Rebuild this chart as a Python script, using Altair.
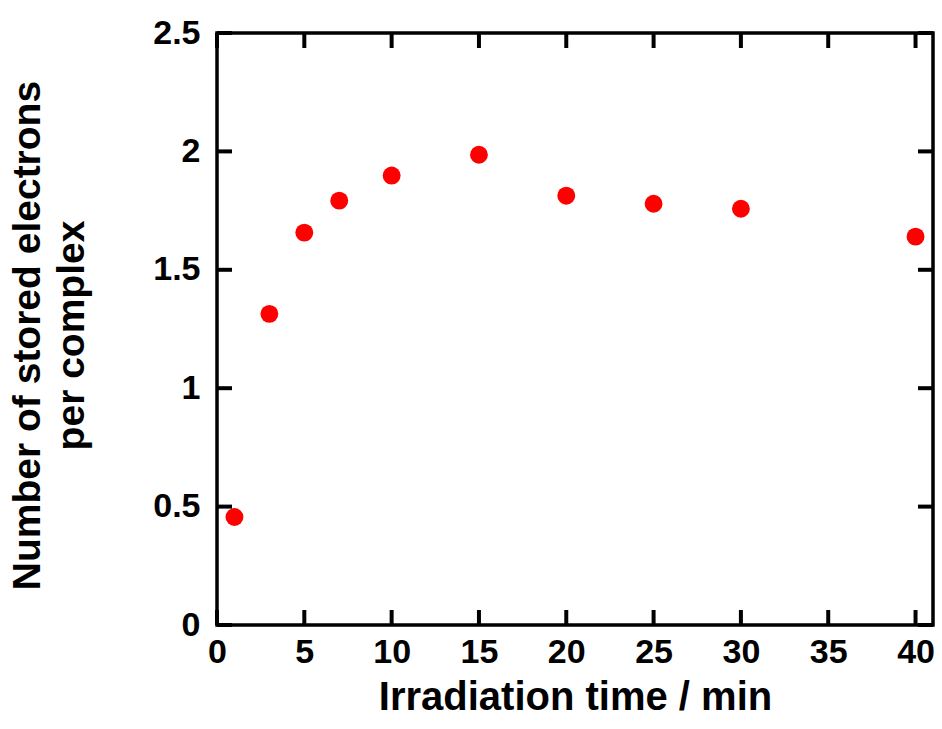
import altair as alt
import pandas as pd

# Data
times = [1, 3, 5, 7, 10, 15, 20, 25, 30, 40]
electrons = [0.456, 1.314, 1.657, 1.792, 1.898, 1.986, 1.813, 1.779, 1.758, 1.640]
x_ticks = [0, 5, 10, 15, 20, 25, 30, 35, 40]
y_ticks = [0, 0.5, 1.0, 1.5, 2.0, 2.5]

W, H = 716, 592
FONT = "Liberation Sans"
TL = 15  # tick length (px)

pts = pd.DataFrame({"t": times, "n": electrons})
xt = pd.DataFrame({"t": x_ticks})
yt = pd.DataFrame({"n": y_ticks})

xs = alt.Scale(domain=[0, 41], nice=False, zero=False)
ys = alt.Scale(domain=[0, 2.5], nice=False, zero=False)

x_axis = alt.Axis(
    title="Irradiation time / min", values=x_ticks, format="d",
    ticks=False, tickSize=0, domain=False, grid=False,
    labelFont=FONT, labelFontSize=34, labelFontWeight="bold", labelColor="black",
    labelBaseline="alphabetic", labelPadding=37, labelFlush=False,
    titleFont=FONT, titleFontSize=40, titleFontWeight="bold", titleColor="black",
    titleBaseline="alphabetic", titleY=84)
y_axis = alt.Axis(
    title=["Number of stored electrons", "per complex"], values=y_ticks,
    labelExpr="datum.value == 0 ? '0' : format(datum.value, '~g')",
    ticks=False, tickSize=0, domain=False, grid=False,
    labelFont=FONT, labelFontSize=34, labelFontWeight="bold", labelColor="black",
    labelPadding=17, labelFlush=False,
    titleFont=FONT, titleFontSize=39, titleFontWeight="bold", titleColor="black",
    titleBaseline="middle", titleAlign="center", titleAngle=-90,
    titleLineHeight=44, titleX=-190, titleY=H / 2 + 6)

points = alt.Chart(pts).mark_circle(size=320, color="#ff0000", opacity=1).encode(
    x=alt.X("t:Q", scale=xs, axis=x_axis),
    y=alt.Y("n:Q", scale=ys, axis=y_axis),
)

tick_style = dict(color="black", strokeWidth=4)
xb = alt.Chart(xt).mark_rule(**tick_style).encode(
    x=alt.X("t:Q", scale=xs, axis=x_axis), y=alt.value(H), y2=alt.value(H - TL))
xtop = alt.Chart(xt).mark_rule(**tick_style).encode(
    x=alt.X("t:Q", scale=xs, axis=x_axis), y=alt.value(0), y2=alt.value(TL))
yl = alt.Chart(yt).mark_rule(**tick_style).encode(
    y=alt.Y("n:Q", scale=ys, axis=y_axis), x=alt.value(0), x2=alt.value(TL))
yr = alt.Chart(yt).mark_rule(**tick_style).encode(
    y=alt.Y("n:Q", scale=ys, axis=y_axis), x=alt.value(W), x2=alt.value(W - TL))

chart = alt.layer(points, xb, xtop, yl, yr).properties(
    width=W, height=H,
    autosize=alt.AutoSizeParams(type="none"),
    padding={"left": 217, "top": 33, "right": 9, "bottom": 104},
    background="white",
).configure_view(stroke="black", strokeWidth=3.5)

chart.save("out.html", embed_options={"renderer": "svg", "actions": False})
